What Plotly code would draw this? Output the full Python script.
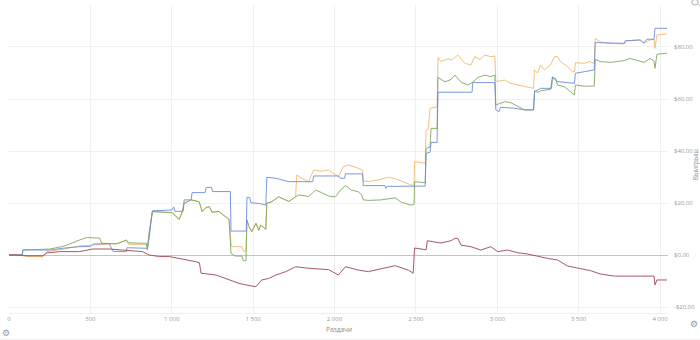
import plotly.graph_objects as go

# Winnings by hands played, four players (values in $)
blue_x = [0, 80, 86, 250, 330, 430, 500, 515, 615, 640, 720, 725, 840, 850, 862, 881, 1000, 1012, 1020,
          1070, 1076, 1119, 1125, 1205, 1211, 1245, 1250, 1360, 1364, 1458, 1462, 1480, 1486, 1540, 1578,
          1584, 1640, 1700, 1720, 1866, 1872, 2024, 2037, 2062, 2067, 2172, 2177, 2310, 2315, 2325, 2557,
          2563, 2587, 2593, 2630, 2636, 2845, 2850, 2985, 2991, 3010, 3020, 3100, 3168, 3223, 3229, 3266,
          3333, 3339, 3352, 3370, 3474, 3480, 3535, 3596, 3602, 3780, 3786, 3878, 3900, 3920, 3963, 3969, 4043]
blue_y = [0, 0, 2.0, 1.9, 2.6, 3.2, 3.3, 4.2, 4.4, 1.4, 1.3, 2.8, 2.6, 2.2, 7.0, 17.0, 17.3, 18.5, 16.8,
          16.8, 21.2, 21.2, 24.0, 24.0, 26.0, 26.0, 24.4, 24.4, 9.2, 9.2, 22.2, 22.0, 20.1, 19.8, 19.2,
          29.9, 29.5, 28.5, 28.2, 28.2, 30.4, 30.4, 29.5, 29.5, 31.2, 31.2, 26.7, 26.7, 25.6, 26.4, 26.5,
          39.1, 39.5, 43.3, 43.3, 62.6, 62.6, 66.3, 66.3, 55.8, 55.1, 56.8, 56.5, 55.8, 55.8, 62.8, 64.1,
          64.1, 68.6, 67.5, 66.7, 66.0, 69.9, 70.5, 71.2, 81.7, 81.4, 82.4, 82.7, 81.5, 83.0, 83.0, 87.2, 87.2]

orange_x = [0, 60, 110, 208, 232, 330, 434, 514, 557, 575, 661, 720, 735, 844, 850, 862, 881, 940, 1003,
            1028, 1046, 1064, 1076, 1119, 1168, 1187, 1211, 1230, 1248, 1290, 1333, 1352, 1364, 1370, 1431,
            1440, 1456, 1462, 1474, 1492, 1517, 1535, 1547, 1578, 1584, 1615, 1657, 1676, 1719, 1761, 1768,
            1798, 1841, 1872, 1920, 1963, 1982, 2024, 2055, 2086, 2128, 2165, 2172, 2177, 2208, 2269, 2330,
            2373, 2410, 2471, 2489, 2492, 2557, 2563, 2575, 2587, 2630, 2636, 2654, 2697, 2720, 2758, 2801,
            2838, 2862, 2893, 2924, 2960, 2985, 2991, 3046, 3083, 3125, 3168, 3205, 3223, 3229, 3248, 3266,
            3290, 3327, 3352, 3370, 3388, 3431, 3462, 3474, 3480, 3535, 3566, 3596, 3602, 3633, 3676, 3780,
            3798, 3878, 3902, 3939, 3963, 3969, 3981, 4043]
orange_y = [0, 0, -0.6, -0.6, 1.3, 2.2, 3.5, 3.8, 4.0, 4.3, 4.4, 5.5, 4.1, 4.1, 2.2, 9.0, 16.7, 16.5, 16.3,
            14.7, 13.7, 16.5, 19.9, 21.2, 20.5, 16.7, 18.3, 18.6, 16.5, 16.7, 14.7, 13.7, 4.5, 3.2, 3.2,
            1.5, 1.5, 13.5, 11.0, 9.0, 12.2, 9.5, 11.5, 9.9, 19.9, 20.5, 22.4, 21.8, 20.6, 22.4, 30.8,
            29.5, 28.2, 32.7, 32.2, 32.7, 31.9, 30.1, 34.0, 34.6, 33.8, 32.7, 32.7, 28.5, 28.3, 28.9, 29.9,
            29.4, 28.5, 26.9, 26.9, 35.9, 35.3, 48.0, 48.2, 56.4, 57.0, 76.0, 74.4, 75.5, 75.0, 76.9, 73.7,
            73.1, 76.3, 75.2, 76.9, 76.3, 76.5, 66.7, 67.3, 66.0, 65.4, 64.7, 64.1, 64.1, 71.2, 70.0, 73.1,
            71.2, 73.1, 76.3, 76.3, 74.4, 72.4, 70.5, 70.5, 74.0, 73.7, 74.4, 73.7, 83.3, 82.0, 81.4, 81.2,
            82.4, 82.7, 81.5, 82.7, 83.0, 79.5, 84.6, 85.0]

green_x = [0, 80, 86, 250, 330, 355, 434, 477, 557, 570, 661, 722, 735, 844, 850, 862, 881, 940, 1003,
           1028, 1046, 1064, 1076, 1119, 1168, 1187, 1211, 1230, 1248, 1290, 1333, 1352, 1364, 1390, 1431,
           1440, 1456, 1462, 1474, 1492, 1517, 1535, 1547, 1578, 1584, 1615, 1657, 1676, 1719, 1761, 1780,
           1841, 1884, 1920, 1963, 2006, 2037, 2067, 2104, 2147, 2165, 2177, 2208, 2287, 2330, 2373, 2410,
           2471, 2489, 2492, 2557, 2563, 2587, 2593, 2630, 2636, 2679, 2716, 2740, 2777, 2820, 2850, 2881,
           2924, 2960, 2985, 2991, 3046, 3083, 3125, 3168, 3223, 3229, 3248, 3266, 3327, 3339, 3358, 3370,
           3413, 3450, 3474, 3480, 3535, 3596, 3602, 3633, 3694, 3737, 3780, 3816, 3859, 3902, 3939, 3963,
           3969, 3981, 4043]
green_y = [0, 0, 1.9, 2.3, 3.3, 3.8, 5.8, 6.7, 6.5, 4.5, 4.3, 5.8, 4.7, 4.5, 2.2, 9.0, 16.7, 16.5, 16.3,
           14.7, 13.7, 16.5, 19.9, 21.2, 20.5, 16.7, 18.3, 18.6, 16.5, 16.7, 14.7, 13.7, 0.6, -0.4, -0.4,
           -2.2, -2.2, 13.5, 11.0, 9.0, 12.2, 9.5, 11.5, 9.9, 19.9, 20.5, 22.4, 21.8, 20.6, 22.4, 23.1,
           22.5, 25.0, 24.0, 22.7, 22.4, 25.0, 26.7, 25.0, 24.3, 23.3, 21.2, 21.0, 21.2, 21.6, 22.0, 20.3,
           19.2, 19.4, 28.2, 27.8, 41.0, 41.5, 48.7, 48.7, 68.3, 66.6, 67.5, 69.2, 66.5, 65.4, 66.5, 68.3,
           69.2, 68.6, 69.2, 57.7, 59.0, 58.6, 57.2, 55.8, 55.8, 63.2, 62.5, 63.2, 63.7, 68.0, 68.0, 65.4,
           64.7, 62.8, 61.5, 65.4, 64.9, 65.0, 75.3, 74.4, 74.1, 74.4, 74.8, 75.6, 74.9, 74.1, 75.6, 74.6,
           71.8, 77.2, 77.6]

red_x = [0, 60, 110, 208, 232, 312, 434, 514, 618, 722, 820, 862, 924, 985, 1046, 1100, 1150, 1170, 1180,
         1272, 1352, 1413, 1456, 1517, 1553, 1596, 1639, 1700, 1761, 1841, 1963, 2024, 2067, 2147, 2208,
         2312, 2373, 2453, 2483, 2492, 2563, 2570, 2654, 2716, 2740, 2758, 2777, 2838, 2899, 2960, 3003,
         3064, 3125, 3186, 3248, 3309, 3370, 3431, 3492, 3572, 3633, 3719, 3798, 3878, 3963, 3969, 3981, 4043]
red_y = [0, 0, -0.3, -0.3, 0.8, 1.3, 1.3, 2.3, 2.3, 1.9, 1.3, 0.0, -0.6, -0.6, -1.3, -1.9, -2.6, -3.0, -7.0,
         -7.7, -9.6, -10.9, -11.5, -12.2, -9.6, -9.0, -7.7, -6.4, -4.5, -5.1, -5.6, -7.7, -4.5, -5.8, -6.4,
         -5.1, -4.1, -5.8, -7.0, 2.7, 2.0, 5.5, 4.6, 5.5, 6.4, 6.4, 3.8, 3.2, 1.9, 3.2, 1.3,
         1.9, 0.9, 0.4, -0.6, -1.3, -1.9, -4.2, -5.0, -6.0, -7.3, -8.1, -8.1, -8.1, -8.1, -11.5, -9.6, -9.6]

y_ticks = [-20, 0, 20, 40, 60, 80]
y_tick_text = ["-$20,00", "$0,00", "$20,00", "$40,00", "$60,00", "$80,00"]
x_ticks = [0, 500, 1000, 1500, 2000, 2500, 3000, 3500, 4000]
x_tick_text = ["0", "500", "1 000", "1 500", "2 000", "2 500", "3 000", "3 500", "4 000"]

series = [
    (orange_x, orange_y, "#f4ba72"),
    (green_x, green_y, "#83a860"),
    (blue_x, blue_y, "#6d8fdc"),
    (red_x, red_y, "#a04752"),
]

fig = go.Figure()
for xs, ys, color in series:
    fig.add_trace(go.Scatter(x=xs, y=ys, mode="lines",
                             line=dict(color=color, width=1),
                             opacity=0.9, hoverinfo="skip", showlegend=False))

axis_font = dict(family="Open Sans, sans-serif", size=6, color="#9a9a9a")

fig.update_layout(
    width=700, height=340,
    margin=dict(l=9, r=29, t=5, b=27),
    paper_bgcolor="white", plot_bgcolor="white",
    font=axis_font,
    xaxis=dict(range=[0, 4049], tickvals=x_ticks, ticktext=x_tick_text,
               showgrid=True, gridcolor="#f0f0f0", gridwidth=1,
               zeroline=False, showline=True, linecolor="#f0f0f0",
               ticks="", tickfont=axis_font, fixedrange=True),
    yaxis=dict(range=[-22.3, 96.15], tickvals=y_ticks, ticktext=y_tick_text,
               side="right", showgrid=True, gridcolor="#f0f0f0", gridwidth=1,
               zeroline=True, zerolinecolor="#c4c4c4", zerolinewidth=1,
               ticks="", tickfont=axis_font, ticklabelstandoff=5, fixedrange=True),
    annotations=[
        dict(text="Раздачи", xref="paper", yref="paper", x=0.5, y=-0.055,
             xanchor="center", yanchor="middle", showarrow=False,
             font=dict(family="Open Sans, sans-serif", size=6.5, color="#8a8a8a")),
        dict(text="Выигрыш", xref="paper", yref="paper", x=1.041, y=0.48,
             xanchor="center", yanchor="middle", textangle=-90, showarrow=False,
             font=dict(family="Open Sans, sans-serif", size=6.5, color="#8a8a8a")),
        dict(text="⚙", xref="paper", yref="paper", x=-0.005, y=-0.065,
             xanchor="center", yanchor="middle", showarrow=False,
             font=dict(family="DejaVu Sans", size=9, color="#9a9a9a")),
        dict(text="⚙", xref="paper", yref="paper", x=1.04, y=-0.035,
             xanchor="center", yanchor="middle", showarrow=False,
             font=dict(family="DejaVu Sans", size=9, color="#9a9a9a")),
    ],
    shapes=[
        # magnifier icon in the top-right corner
        dict(type="circle", xref="paper", yref="paper", x0=1.036, x1=1.046, y0=1.0, y1=1.018,
             line=dict(color="#b0b0b0", width=1)),
        dict(type="line", xref="paper", yref="paper", x0=1.046, x1=1.052, y0=1.002, y1=0.99,
             line=dict(color="#b0b0b0", width=1)),
        # page border at the bottom
        dict(type="line", xref="paper", yref="paper", x0=-0.02, x1=1.05, y0=-0.085, y1=-0.085,
             line=dict(color="#eeeeee", width=1)),
    ],
)

fig.write_html("out.html")
